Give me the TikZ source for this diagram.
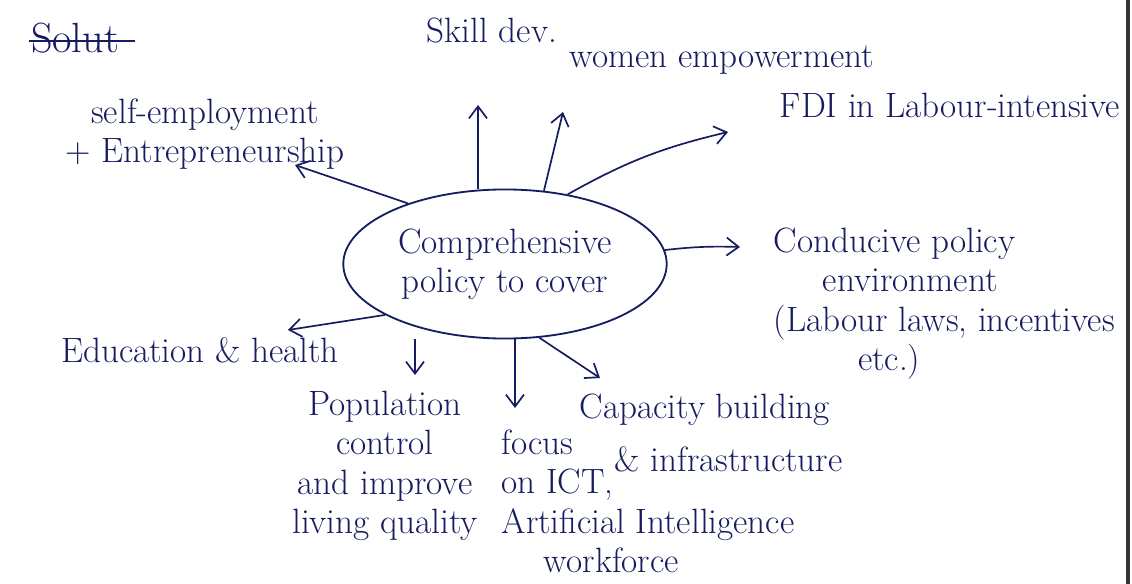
\documentclass[tikz,border=0pt]{standalone}
\usepackage{tikz}
\usepackage{xcolor}
\usetikzlibrary{arrows.meta, positioning, shapes.geometric}

\definecolor{ink}{RGB}{22,28,96}

\begin{document}
\begin{tikzpicture}[x=0.025cm, y=-0.025cm, font=\fontsize{25}{28}\selectfont, color=ink,
        topic/.style={align=center, inner sep=1pt},
        spoke/.style={draw=ink, line width=1.2pt, -{Straight Barb[length=3mm, width=4.5mm]}}]
        \useasboundingbox (0,0) rectangle (1132,584);
        \fill[white] (0,0) rectangle (1132,584);
        \draw[black!80, line width=2.2pt] (1128,0) -- (1128,584);

        % heading, crossed out
        \node[topic, font=\fontsize{30}{34}\selectfont] (head) at (75,38) {Solut};
        \draw[line width=1.2pt] ([yshift=-2pt]head.west) -- ([yshift=-2pt,xshift=10pt]head.east);

        % centre
        \node[draw, ellipse, line width=1.3pt, minimum width=230pt, minimum height=106pt, align=center] (core) at (505,264) {Comprehensive\\policy to cover};

        % branches
        \node[topic] (skill) at (492,30) {Skill dev.};
        \node[topic] (women) at (722,60) {women empowerment};
        \node[topic] (self) at (205,134) {self-employment\\+ Entrepreneurship};
        \node[topic] (fdi) at (950,105) {FDI in Labour-intensive};
        \node[topic, align=left, anchor=north west] (cond) at (772,226) {Conducive policy\\\hspace*{35pt}environment\\(Labour laws, incentives\\\hspace*{60pt}etc.)};
        \node[topic] (edu) at (200,350) {Education \& health};
        \node[topic] (pop) at (385,466) {Population\\control\\and improve\\living quality};
        \node[topic, align=left, anchor=north west] (ict) at (500,428) {focus\\on ICT,\\Artificial Intelligence\\\hspace*{30pt}workforce};
        \node[topic, align=left, anchor=north west] (cap) at (578,392) {Capacity building\\[10pt]\hspace*{25pt}\& infrastructure};

        % arrows out of the centre
        \coordinate (skilltip) at (478,105);
        \coordinate (womentip) at (563,112);
        \coordinate (fditip) at (728,132);
        \coordinate (selftip) at (295,165);
        \coordinate (condtip) at (740,247);
        \coordinate (edutip) at (288,330);
        \coordinate (poptip) at (415,375);
        \coordinate (icttip) at (515,408);
        \coordinate (captip) at (600,378);

        \draw[spoke] (core.north -| skilltip) -- (skilltip);
        \draw[spoke] (core.62) -- (womentip);
        \draw[spoke] (core.48) to[bend left=8] (fditip);
        \draw[spoke] (core.148) -- (selftip);
        \draw[spoke] (core.5) to[bend left=4] (condtip);
        \draw[spoke] (core.203) -- (edutip);
        \draw[spoke] (core.south -| poptip) -- (poptip);
        \draw[spoke] (core.south -| icttip) -- (icttip);
        \draw[spoke] (core.295) -- (captip);
    \end{tikzpicture}
\end{document}
